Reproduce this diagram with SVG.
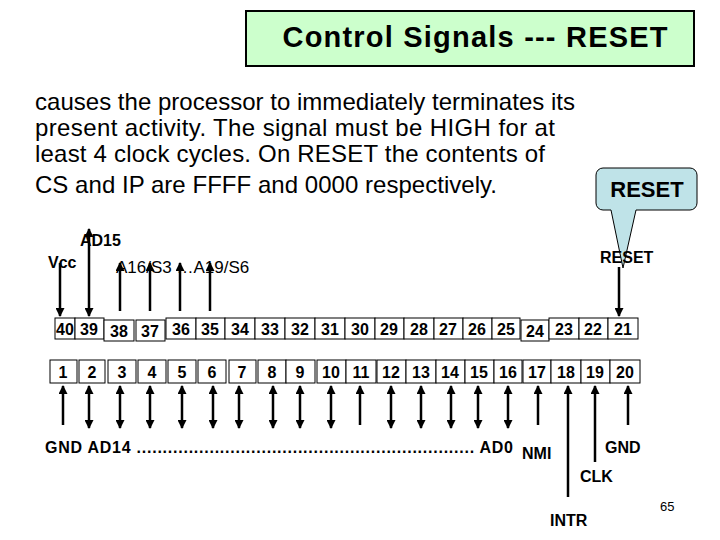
<svg xmlns="http://www.w3.org/2000/svg" width="720" height="540" viewBox="0 0 720 540">
<style>
text{font-family:"Liberation Sans",Arial,sans-serif;fill:#000}
.b{font-weight:bold}
.p{font-size:24px}
.n{font-size:16px;font-weight:bold;text-anchor:middle}
.l{font-size:16px;font-weight:bold}
.box{fill:#fff;stroke:#000;stroke-width:1}
.w{stroke:#000;stroke-width:2.5;fill:none}
</style>
<defs>
<marker id="a" viewBox="0 0 10 10" refX="9" refY="5" markerWidth="4.4" markerHeight="3.6" orient="auto-start-reverse"><path d="M0 0L10 5L0 10z" fill="#000"/></marker>
</defs>
<rect width="720" height="540" fill="#fff"/>
<g id="title"><rect x="246" y="11" width="448" height="55" fill="#ccffcc" stroke="#000" stroke-width="2"/>
<text x="475" y="47" class="b" font-size="29" text-anchor="middle" textLength="385">Control Signals --- RESET</text></g>
<g id="para" class="p">
<text x="35" y="110" textLength="540">causes the processor to immediately terminates its</text>
<text x="35" y="136" textLength="520">present activity. The signal must be HIGH for at</text>
<text x="35" y="162" textLength="510">least 4 clock cycles.  On RESET the contents of</text>
<text x="35" y="193" textLength="462">CS and IP are FFFF and 0000 respectively.</text>
</g>
<g id="callout"><path d="M603 168H690a7 7 0 0 1 7 7V203a7 7 0 0 1-7 7H636L623 268L611 210H603a7 7 0 0 1-7-7V175a7 7 0 0 1 7-7z" fill="#bfe3e8" stroke="#000" stroke-width="1"/>
<text x="647" y="197" class="b" font-size="22" text-anchor="middle">RESET</text></g>
<g id="top-pins">
<rect class="box" x="55" y="318" width="20" height="21"/><text class="n" x="65" y="335">40</text>
<rect class="box" x="75" y="318" width="29" height="21"/><text class="n" x="89" y="335">39</text>
<rect class="box" x="104" y="320" width="30" height="21"/><text class="n" x="119" y="337">38</text>
<rect class="box" x="136" y="320" width="29" height="21"/><text class="n" x="150" y="337">37</text>
<rect class="box" x="166" y="318" width="30" height="21"/><text class="n" x="181" y="335">36</text>
<rect class="box" x="196" y="318" width="29" height="21"/><text class="n" x="210" y="335">35</text>
<rect class="box" x="225" y="318" width="30" height="21"/><text class="n" x="240" y="335">34</text>
<rect class="box" x="255" y="318" width="30" height="21"/><text class="n" x="270" y="335">33</text>
<rect class="box" x="285" y="318" width="30" height="21"/><text class="n" x="300" y="335">32</text>
<rect class="box" x="315" y="318" width="30" height="21"/><text class="n" x="330" y="335">31</text>
<rect class="box" x="345" y="318" width="30" height="21"/><text class="n" x="360" y="335">30</text>
<rect class="box" x="375" y="318" width="29" height="21"/><text class="n" x="389" y="335">29</text>
<rect class="box" x="404" y="318" width="30" height="21"/><text class="n" x="419" y="335">28</text>
<rect class="box" x="434" y="318" width="29" height="21"/><text class="n" x="448" y="335">27</text>
<rect class="box" x="463" y="318" width="29" height="21"/><text class="n" x="477" y="335">26</text>
<rect class="box" x="492" y="318" width="28" height="21"/><text class="n" x="506" y="335">25</text>
<rect class="box" x="521" y="320" width="28" height="21"/><text class="n" x="535" y="337">24</text>
<rect class="box" x="549" y="318" width="30" height="21"/><text class="n" x="564" y="335">23</text>
<rect class="box" x="579" y="318" width="29" height="21"/><text class="n" x="593" y="335">22</text>
<rect class="box" x="608" y="318" width="30" height="21"/><text class="n" x="623" y="335">21</text>
</g>
<g id="bottom-pins">
<rect class="box" x="50" y="360" width="27" height="23"/><text class="n" x="63" y="378">1</text>
<rect class="box" x="79" y="360" width="26" height="23"/><text class="n" x="92" y="378">2</text>
<rect class="box" x="108" y="360" width="28" height="23"/><text class="n" x="122" y="378">3</text>
<rect class="box" x="138" y="360" width="28" height="23"/><text class="n" x="152" y="378">4</text>
<rect class="box" x="168" y="360" width="28" height="23"/><text class="n" x="182" y="378">5</text>
<rect class="box" x="198" y="360" width="28" height="23"/><text class="n" x="212" y="378">6</text>
<rect class="box" x="229" y="360" width="27" height="23"/><text class="n" x="242" y="378">7</text>
<rect class="box" x="258" y="360" width="28" height="23"/><text class="n" x="272" y="378">8</text>
<rect class="box" x="286" y="360" width="29" height="23"/><text class="n" x="300" y="378">9</text>
<rect class="box" x="317" y="360" width="29" height="23"/><text class="n" x="331" y="378">10</text>
<rect class="box" x="346" y="360" width="30" height="23"/><text class="n" x="361" y="378">11</text>
<rect class="box" x="377" y="360" width="29" height="23"/><text class="n" x="391" y="378">12</text>
<rect class="box" x="406" y="360" width="30" height="23"/><text class="n" x="421" y="378">13</text>
<rect class="box" x="436" y="360" width="29" height="23"/><text class="n" x="450" y="378">14</text>
<rect class="box" x="465" y="360" width="29" height="23"/><text class="n" x="479" y="378">15</text>
<rect class="box" x="494" y="360" width="28" height="23"/><text class="n" x="508" y="378">16</text>
<rect class="box" x="523" y="360" width="28" height="23"/><text class="n" x="537" y="378">17</text>
<rect class="box" x="551" y="360" width="30" height="23"/><text class="n" x="566" y="378">18</text>
<rect class="box" x="581" y="360" width="29" height="23"/><text class="n" x="595" y="378">19</text>
<rect class="box" x="610" y="360" width="30" height="23"/><text class="n" x="625" y="378">20</text>
</g>
<g id="connectors" class="w">
<path d="M60 263V316" marker-end="url(#a)"/>
<path d="M89 229V316" marker-start="url(#a)" marker-end="url(#a)"/>
<path d="M120 311V263" marker-end="url(#a)"/>
<path d="M150 311V263" marker-end="url(#a)"/>
<path d="M180 311V263" marker-end="url(#a)"/>
<path d="M210 311V263" marker-end="url(#a)"/>
<path d="M619 267V316" marker-end="url(#a)"/>
<path d="M63 425V386" marker-end="url(#a)"/>
<path d="M89 428V386" marker-start="url(#a)" marker-end="url(#a)"/>
<path d="M120 428V386" marker-start="url(#a)" marker-end="url(#a)"/>
<path d="M150 428V386" marker-start="url(#a)" marker-end="url(#a)"/>
<path d="M182 428V386" marker-start="url(#a)" marker-end="url(#a)"/>
<path d="M213 428V386" marker-start="url(#a)" marker-end="url(#a)"/>
<path d="M239 428V386" marker-start="url(#a)" marker-end="url(#a)"/>
<path d="M273 428V386" marker-start="url(#a)" marker-end="url(#a)"/>
<path d="M300 428V386" marker-start="url(#a)" marker-end="url(#a)"/>
<path d="M331 428V386" marker-start="url(#a)" marker-end="url(#a)"/>
<path d="M360 425V386" marker-end="url(#a)"/>
<path d="M391 428V386" marker-start="url(#a)" marker-end="url(#a)"/>
<path d="M421 428V386" marker-start="url(#a)" marker-end="url(#a)"/>
<path d="M451 428V386" marker-start="url(#a)" marker-end="url(#a)"/>
<path d="M478 428V386" marker-start="url(#a)" marker-end="url(#a)"/>
<path d="M508 428V386" marker-start="url(#a)" marker-end="url(#a)"/>
<path d="M538 425V386" marker-end="url(#a)"/>
<path d="M568 497V386" marker-end="url(#a)"/>
<path d="M595 462V386" marker-end="url(#a)"/>
<path d="M628 425V386" marker-end="url(#a)"/>
</g>
<g id="labels">
<text class="l" x="80" y="246">AD15</text>
<text class="l" x="48" y="268">Vcc</text>
<text x="116" y="273" font-size="17">A16/S3 …A19/S6</text>
<text class="l" x="600" y="263">RESET</text>
<text class="l" x="45" y="453" textLength="468">GND AD14 ................................................................. AD0</text>
<text class="l" x="522" y="459">NMI</text>
<text class="l" x="605" y="453">GND</text>
<text class="l" x="580" y="482">CLK</text>
<text class="l" x="550" y="526">INTR</text>
<text x="660" y="511" font-size="13">65</text>
</g>
</svg>
